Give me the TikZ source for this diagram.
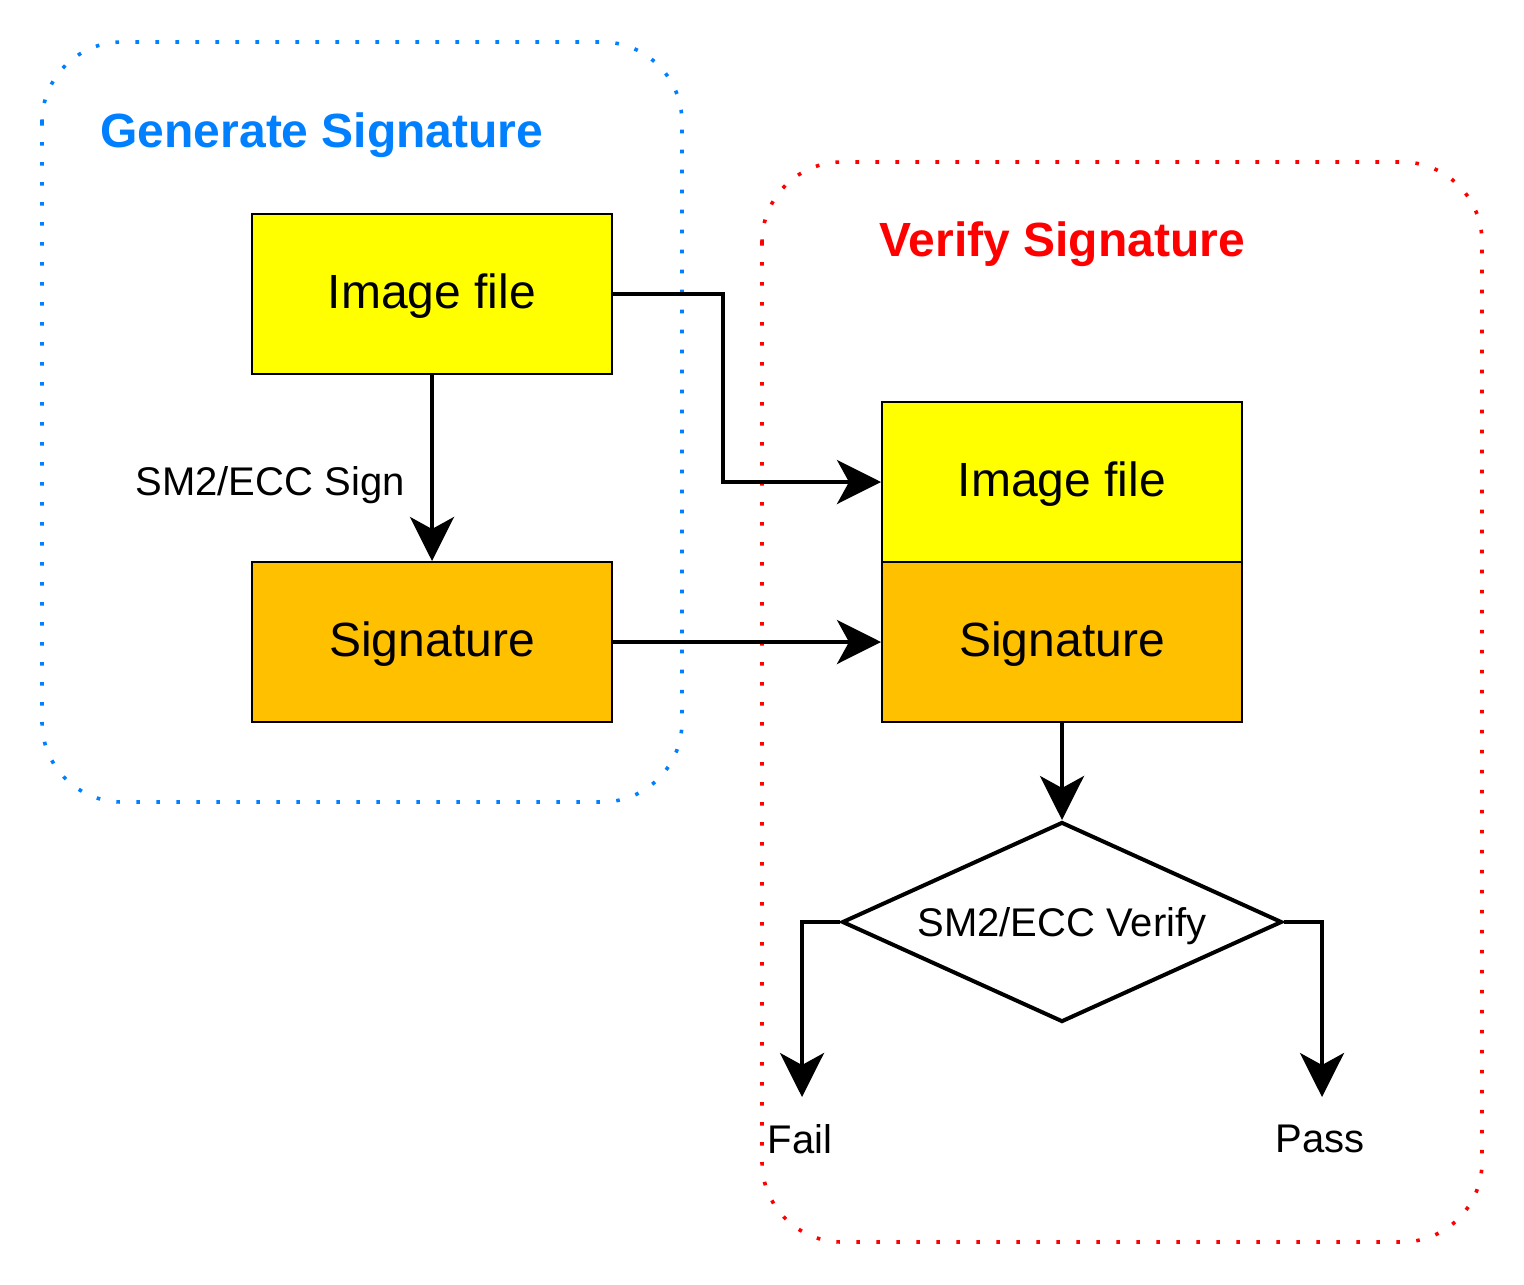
\documentclass[tikz,border=0pt]{standalone}
\usepackage{fontspec}
\setmainfont{Liberation Sans}
\usetikzlibrary{arrows.meta,shapes.geometric}
\definecolor{gsblue}{HTML}{007FFF}
\definecolor{vsred}{HTML}{FF0000}
\definecolor{imgyellow}{HTML}{FFFF00}
\definecolor{sigorange}{HTML}{FFC000}
\begin{document}
\begin{tikzpicture}[x=0.5pt,y=-0.5pt,
  group/.style={line width=1.8pt, dash pattern=on 1.8pt off 8.2pt, rounded corners=40pt},
  box/.style={draw=black, line width=1pt, minimum width=180pt, minimum height=80pt, inner sep=0pt,
    text height=18pt, text depth=3.6pt, font=\fontsize{24}{28}\selectfont},
  title/.style={font=\fontsize{24}{28}\selectfont\bfseries, anchor=base, inner sep=0pt},
  lbl/.style={font=\fontsize{20}{24}\selectfont, inner sep=0pt},
  conn/.style={line width=2pt, -{Stealth[length=22pt,width=22pt,inset=6pt]}}]
\useasboundingbox (0,0) rectangle (1524,1284);
% groups
\draw[group, draw=gsblue] (42,42) rectangle (682,802);
\draw[group, draw=vsred] (762,162) rectangle (1482,1242);
\node[title, text=gsblue] (gtitle) at (322,148) {Generate Signature};
\node[title, text=vsred] (vtitle) at (1062,256) {Verify Signature};
% boxes
\node[box, fill=imgyellow] (imgL) at (432,294) {Image file};
\node[box, fill=sigorange] (sigL) at (432,642) {Signature};
\node[box, fill=imgyellow] (imgR) at (1062,482) {Image file};
\node[box, fill=sigorange] (sigR) at (1062,642) {Signature};
\node[draw=black, line width=2pt, diamond, shape aspect=2.2, inner sep=0pt,
      text height=15pt, text depth=0.6pt,
      minimum width=220pt, minimum height=100pt, font=\fontsize{20}{24}\selectfont] (dia) at (1062,922) {SM2/ECC Verify};
% labels
\node[lbl, anchor=east] (signlbl) at (405,485) {SM2/ECC Sign};
\node[lbl] (fail) at (800,1139) {Fail};
\node[lbl] (pass) at (1320,1139) {Pass};
\coordinate (failend) at (802,1097);
\coordinate (passend) at (1322,1097);
% connectors
\draw[conn] (imgL.east) -- ++(55pt,0) |- (imgR.west);
\draw[conn] (sigL.east) -- (sigR.west);
\draw[conn] (imgL.south) -- (sigL.north);
\draw[conn] (sigR.south) -- (dia.north);
\draw[conn] (dia.west) -| (failend);
\draw[conn] (dia.east) -| (passend);
\end{tikzpicture}
\end{document}
